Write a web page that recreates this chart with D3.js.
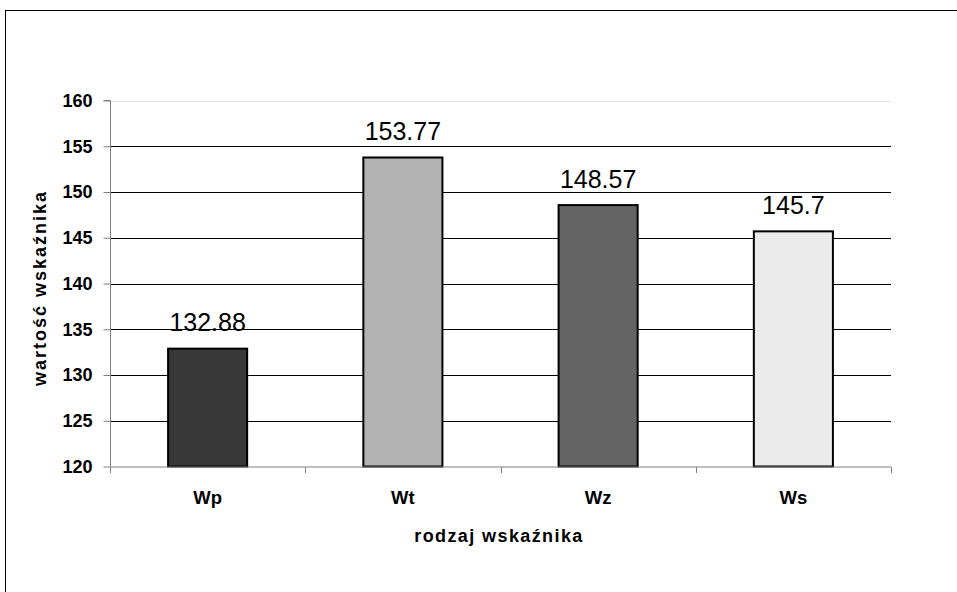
<!DOCTYPE html>
<html>
<head>
<meta charset="utf-8">
<script src="https://cdn.jsdelivr.net/npm/d3@7"></script>
<style>
  html, body { margin: 0; padding: 0; background: #fff; }
  svg { display: block; }
</style>
</head>
<body>
<svg id="chart" width="957" height="592"></svg>
<script>
const categories = ["Wp", "Wt", "Wz", "Ws"];
const values = [132.88, 153.77, 148.57, 145.7];
const valueLabels = ["132.88", "153.77", "148.57", "145.7"];
const barColors = ["#383838", "#b3b3b3", "#646464", "#ebebeb"];
const yTicks = [120, 125, 130, 135, 140, 145, 150, 155, 160];
const xTitle = "rodzaj wskaźnika";
const yTitle = "wartość wskaźnika";

const svg = d3.select("#chart");
const pLeft = 110, pRight = 891, pTop = 100.5, pBottom = 466.5;

// outer frame
svg.append("rect").attr("x", 5.5).attr("y", 10.5).attr("width", 1000).attr("height", 700)
  .attr("fill", "#fff").attr("stroke", "#000").attr("stroke-width", 1);

const x = d3.scaleBand().domain(categories).range([pLeft, pRight]).paddingInner(0.595).paddingOuter(0.2975);
const xb = d3.scaleBand().domain(categories).range([pLeft, pRight]);
const y = d3.scaleLinear().domain([120, 160]).range([pBottom, pTop]);

// gridlines
svg.append("g").selectAll("line").data(yTicks.filter(t => t > 120)).join("line")
  .attr("x1", pLeft).attr("x2", pRight)
  .attr("y1", d => Math.round(y(d)) + 0.5).attr("y2", d => Math.round(y(d)) + 0.5)
  .attr("stroke", d => d === 160 ? "#e6e6e6" : "#000").attr("stroke-width", 1);

// bars
svg.append("g").selectAll("rect").data(categories).join("rect")
  .attr("x", d => x(d))
  .attr("width", x.bandwidth())
  .attr("y", (d, i) => y(values[i]))
  .attr("height", (d, i) => y(120) - y(values[i]))
  .attr("fill", (d, i) => barColors[i])
  .attr("stroke", "#000").attr("stroke-width", 2);

// y axis
const yAxis = d3.axisLeft(y).tickValues(yTicks).tickSize(7).tickPadding(11).tickFormat(d3.format("d"));
const gy = svg.append("g").attr("transform", `translate(${pLeft + 0.5},0)`).call(yAxis);
gy.select(".domain").attr("stroke", "#808080").attr("d", `M-7,${pTop}H0V${pBottom}`);
gy.selectAll(".tick line").attr("stroke", "#808080");
gy.selectAll(".tick text").attr("fill", "#000").attr("font-family", "Arial, 'Liberation Sans', sans-serif")
  .attr("font-size", 18).attr("font-weight", "bold");

// x axis
const gx = svg.append("g").attr("transform", `translate(0,${pBottom + 0.5})`);
gx.append("line").attr("x1", pLeft).attr("x2", pRight).attr("y1", 0).attr("y2", 0).attr("stroke", "#808080");
gx.selectAll("line.tk").data(categories.concat(["end"])).join("line").attr("class", "tk")
  .attr("x1", (d, i) => Math.round(pLeft + xb.step() * i) + 0.5)
  .attr("x2", (d, i) => Math.round(pLeft + xb.step() * i) + 0.5)
  .attr("y1", 0).attr("y2", 6).attr("stroke", "#808080");
gx.selectAll("text").data(categories).join("text")
  .attr("x", d => xb(d) + xb.bandwidth() / 2)
  .attr("y", 37)
  .attr("text-anchor", "middle")
  .attr("font-family", "Arial, 'Liberation Sans', sans-serif")
  .attr("font-size", 18.5).attr("font-weight", "bold")
  .text(d => d);

// value labels
svg.append("g").selectAll("text").data(categories).join("text")
  .attr("x", d => x(d) + x.bandwidth() / 2)
  .attr("y", (d, i) => y(values[i]) - 17.5)
  .attr("text-anchor", "middle")
  .attr("font-family", "Arial, 'Liberation Sans', sans-serif")
  .attr("font-size", 25)
  .text((d, i) => valueLabels[i]);

// axis titles
svg.append("text").attr("x", 499).attr("y", 541.5).attr("text-anchor", "middle")
  .attr("font-family", "Arial, 'Liberation Sans', sans-serif")
  .attr("font-size", 18).attr("font-weight", "bold").attr("letter-spacing", 1.4)
  .text(xTitle);
svg.append("text").attr("transform", "translate(46,288) rotate(-90)").attr("text-anchor", "middle")
  .attr("font-family", "Arial, 'Liberation Sans', sans-serif")
  .attr("font-size", 18).attr("font-weight", "bold").attr("letter-spacing", 2)
  .text(yTitle);
</script>
</body>
</html>
